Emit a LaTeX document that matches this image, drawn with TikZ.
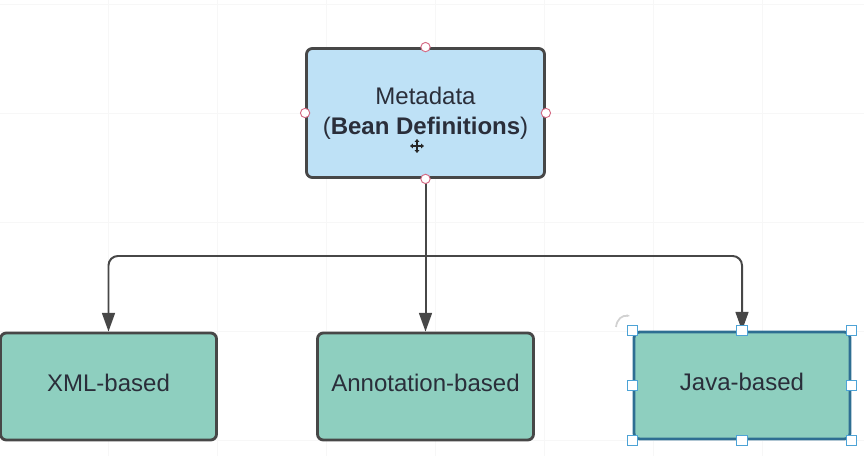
\documentclass[tikz,border=0pt]{standalone}
\usepackage{fontspec}
\setmainfont{Liberation Sans}
\usetikzlibrary{arrows.meta}
\definecolor{boxline}{HTML}{474747}
\definecolor{metafill}{HTML}{BEE1F6}
\definecolor{basefill}{HTML}{8ECFBF}
\definecolor{labeltext}{HTML}{2A2E3A}
\definecolor{selectline}{HTML}{2E6E92}
\definecolor{handleblue}{HTML}{4DA3D6}
\definecolor{handlered}{HTML}{D46A84}

\begin{document}
\begin{tikzpicture}[x=0.03cm, y=-0.03cm,
				font=\fontsize{20.5}{25.6}\selectfont,
				metanode/.style={rectangle, rounded corners=5pt, draw=boxline, line width=2.4pt, fill=metafill, text=labeltext, minimum width=7.14cm, minimum height=3.87cm, align=center},
				basenode/.style={rectangle, rounded corners=5pt, draw=boxline, line width=2.4pt, fill=basefill, text=labeltext, text depth=7pt, minimum width=6.48cm, minimum height=3.21cm},
				connector/.style={draw=boxline, line width=1.7pt, rounded corners=8pt, -{Triangle[length=16pt, width=11pt]}},
				porthandle/.style={circle, draw=handlered, fill=white, line width=0.8pt, inner sep=0pt, minimum size=0.28cm},
				sizehandle/.style={rectangle, draw=handleblue, fill=white, line width=0.8pt, inner sep=0pt, minimum size=0.32cm},
				gridline/.style={draw=black!3, line width=0.6pt},
				]
				\useasboundingbox (0,0) rectangle (864,456);

				% Grid
				\foreach \gx in {-1,108,...,871}
					\draw[gridline] (\gx,0) -- (\gx,456);
				\foreach \gy in {4,113,...,456}
					\draw[gridline] (0,\gy) -- (864,\gy);

				% Nodes
				\node[metanode] (meta) at (425.5,113) {Metadata\\(\textbf{Bean Definitions})};
				\node[basenode] (xml) at (108.5,386.5) {XML-based};
				\node[basenode] (anno) at (425.5,386.5) {Annotation-based};
				\node[basenode, draw=selectline] (java) at (742,385.5) {Java-based};
				\coordinate (split) at (425.5,256);

				% Connectors
				\draw[connector] (meta.south) -- (split) -- (anno.north);
				\draw[connector] (split) -| (xml.north);
				\draw[connector] (split) -| (java.north);

				% Handles
				\foreach \a in {north,west,east,south}
					\node[porthandle] (meta-\a) at (meta.\a) {};
				\foreach \a/\n in {north west/nw,north/n,north east/ne,west/w,east/e,south west/sw,south/s,south east/se}
					\node[sizehandle] (java-\n) at (java.\a) {};

				% Cursor and rotate mark
				\coordinate (cursor) at (417,146);
				\draw[black!85, line width=1.1pt, {Triangle[length=2.5pt,width=4pt]}-{Triangle[length=2.5pt,width=4pt]}] (cursor) ++(-7,0) -- ++(14,0);
				\draw[black!85, line width=1.1pt, {Triangle[length=2.5pt,width=4pt]}-{Triangle[length=2.5pt,width=4pt]}] (cursor) ++(0,-7) -- ++(0,14);
				\coordinate (rotate) at (616,327);
				\draw[black!18, line width=1.5pt, -{Stealth[length=3pt]}] (rotate) .. controls (617,319) and (622,315) .. (630,316);
			\end{tikzpicture}
\end{document}
